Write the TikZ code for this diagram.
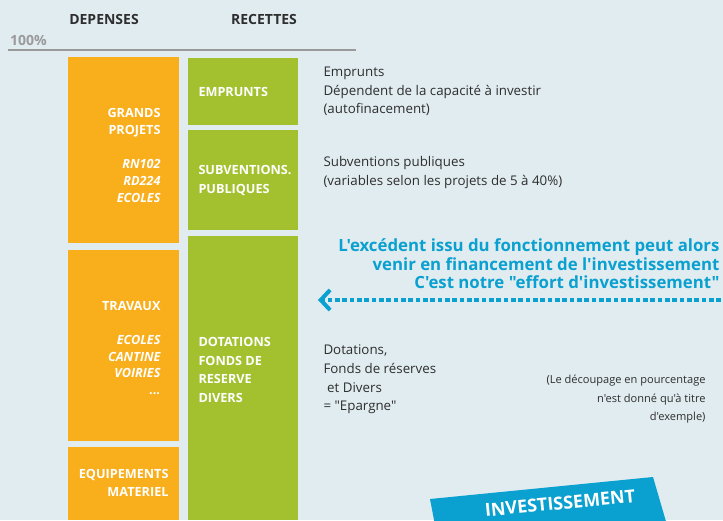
\documentclass[tikz,border=0pt]{standalone}
\usepackage{fontspec}
\setmainfont{Open Sans}[Ligatures=TeXOff]
\usetikzlibrary{arrows.meta}

\definecolor{bgpanel}{HTML}{E1ECF1}
\definecolor{depOrange}{HTML}{F9AE1B}
\definecolor{recGreen}{HTML}{A3C12F}
\definecolor{invBlue}{HTML}{0AA0CF}
\definecolor{noteGray}{HTML}{2E2E2E}
\definecolor{ruleGray}{HTML}{9A9A9A}

\tikzset{every picture/.style={line width=0.75pt}}
\tikzset{
  depbox/.style={fill=depOrange},
  recbox/.style={fill=recGreen},
  boxlabel/.style={text=white, inner sep=0pt, font=\bfseries\fontsize{9.5}{12.75}\selectfont},
  colhead/.style={text=noteGray, inner sep=0pt, font=\bfseries\fontsize{10.5}{12}\selectfont},
  notetext/.style={text=noteGray, inner sep=0pt, anchor=west, align=left, font=\fontsize{10}{13.9}\selectfont},
}

\begin{document}
\begin{tikzpicture}[x=0.75pt,y=0.75pt,yscale=-1,xscale=1]
    %background, fixes the page size
    \fill [bgpanel] (0,0) rectangle (723,520);
    \useasboundingbox (0,0) rectangle (723,520);

    % Column heads
    \draw (104,20) node [colhead] (dep) {DEPENSES};
    \draw (264,20) node [colhead] (rec) {RECETTES};
    \draw (28.5,40) node [inner sep=0pt, text=ruleGray, font=\bfseries\fontsize{10.5}{11}\selectfont] (cent) {100\%};
    %Straight Lines [100% rule]
    \draw [color=ruleGray, line width=1.8] (8,50) -- (356,50);

    %Shape: Rect [depenses]
    \fill [depbox] (68,57) rectangle (179,243);
    \fill [depbox] (68,250) rectangle (179,441);
    \fill [depbox] (68,447) rectangle (179,520);
    %Shape: Rect [recettes]
    \fill [recbox] (188,58) rectangle (298,125);
    \fill [recbox] (188,130) rectangle (298,230);
    \fill [recbox] (188,236) rectangle (298,520);

    % Text Node
    \draw (161,122.5) node [boxlabel, anchor=east, align=right] (grands) {GRANDS\\PROJETS};
    \draw (161,181) node [boxlabel, anchor=east, align=right, font=\bfseries\itshape\fontsize{9.5}{12.75}\selectfont] (grandsliste) {RN102\\RD224\\ECOLES};
    \draw (161,306) node [boxlabel, anchor=east] (travaux) {TRAVAUX};
    \draw (161,365) node [boxlabel, anchor=east, align=right, font=\bfseries\itshape\fontsize{9.5}{12.5}\selectfont] (travauxliste) {ECOLES\\CANTINE\\VOIRIES\\...};
    \draw (169,483) node [boxlabel, anchor=east, align=right, font=\bfseries\fontsize{9.5}{13.5}\selectfont] (equip) {EQUIPEMENTS\\MATERIEL};

    % Text Node
    \draw (198,92) node [boxlabel, anchor=west] (emprunts) {EMPRUNTS};
    \draw (198,180.5) node [boxlabel, anchor=west, align=left, font=\bfseries\fontsize{9.5}{14.2}\selectfont] (subv) {SUBVENTIONS.\\PUBLIQUES};
    \draw (198,370) node [boxlabel, anchor=west, align=left, font=\bfseries\fontsize{9.5}{14}\selectfont] (dotations) {DOTATIONS\\FONDS DE\\RESERVE\\DIVERS};

    % Text Node
    \draw (323,91.5) node [notetext] (noteemp) {Emprunts\\D\'ependent de la capacit\'e \`a investir\\(autofinacement)};
    \draw (323,172.5) node [notetext] (notesubv) {Subventions publiques\\(variables selon les projets de 5 \`a 40\%)};
    \draw (323,379.5) node [notetext] (notedot) {Dotations,\\Fonds de r\'eserves\\\hspace{0.28em}et Divers\\= "Epargne"};
    \draw (706,399.5) node [notetext, anchor=east, align=right, font=\fontsize{8.3}{13.9}\selectfont] (notepct) {(Le d\'ecoupage en pourcentage\\n'est donn\'e qu'\`a titre\\d'exemple)};

    % Text Node
    \draw (720,263.7) node [inner sep=0pt, anchor=east, align=right, text=invBlue, font=\bfseries\fontsize{12.6}{13.9}\selectfont] (effort) {L'exc\'edent issu du fonctionnement peut alors\\venir en financement de l'investissement\\C'est notre "effort d'investissement"};
    \coordinate (arrfrom) at (721,300);
    \coordinate (arrto) at (318,300);
    %Straight Lines [dotted arrow]
    \draw [color=invBlue, line width=3, dash pattern=on 3.5pt off 2pt, -{Straight Barb[length=7pt, width=15pt, line width=3pt]}] (arrfrom) -- (arrto);

    %Shape: Polygon [banner]
    \fill [invBlue] (430,499) -- (653,477) -- (667,525) -- (435,525) -- cycle;
    \draw (560,503) node [inner sep=0pt, rotate=5.6, text=white, font=\bfseries\fontsize{13.5}{16}\selectfont] (invest) {INVESTISSEMENT};

\end{tikzpicture}
\end{document}
